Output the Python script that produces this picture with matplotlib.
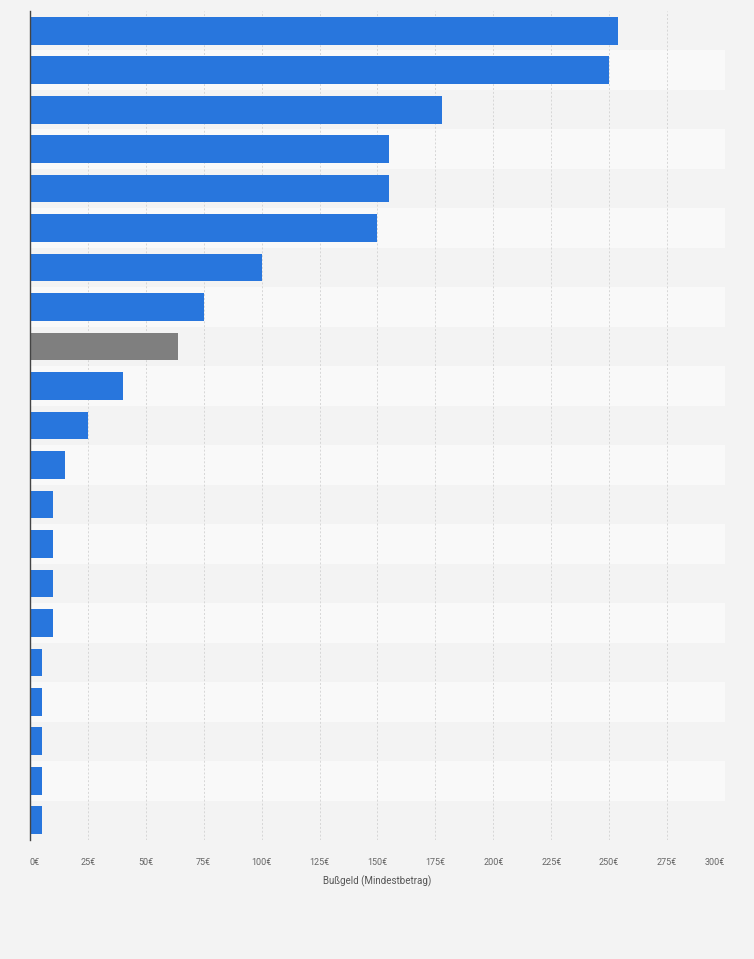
import numpy as np
import matplotlib.pyplot as plt

# minimum fines in euro, top to bottom
values = [254, 250, 178, 155, 155, 150, 100, 75, 64, 40, 25, 15,
          10, 10, 10, 10, 5, 5, 5, 5, 5]
highlight = 8  # grey bar
ticks = list(range(0, 301, 25))
tick_labels = [f"{t}€" for t in ticks]
xlabel = "Bußgeld (Mindestbetrag)"

blue = "#2876dd"
grey = "#7f7f7f"

fig = plt.figure(figsize=(7.54, 9.59), dpi=100, facecolor="#f3f3f3")
ax = fig.add_axes([30 / 754, 1 - 840 / 959, 695 / 754, 829 / 959])
ax.set_facecolor("#f3f3f3")

n = len(values)
ys = np.arange(n)
for i in ys:
    if i % 2 == 1:
        ax.axhspan(i - 0.5, i + 0.5, color="#f9f9f9", zorder=0, lw=0)

colors = [grey if i == highlight else blue for i in ys]
ax.barh(ys, values, height=0.7, color=colors, zorder=3)

ax.set_xlim(0, 300)
ax.set_ylim(n - 0.5, -0.5)
ax.set_xticks(ticks)
ax.set_xticklabels(tick_labels, fontsize=6.5, color="#666666", family="Roboto")
labels = ax.get_xticklabels()
labels[0].set_ha("left")
labels[-1].set_ha("right")
ax.set_yticks([])
ax.tick_params(axis="x", length=0, pad=13)
ax.grid(axis="x", color="#d6d6d6", linestyle=(0, (2, 2)), linewidth=0.7, zorder=1)
ax.set_xlabel(xlabel, fontsize=7, color="#555555", family="Roboto", labelpad=6)

for s in ["top", "right", "bottom"]:
    ax.spines[s].set_visible(False)
ax.spines["left"].set_color("#444444")
ax.spines["left"].set_linewidth(1.0)
ax.spines["left"].set_zorder(4)

fig.savefig("out.png", dpi=100, facecolor=fig.get_facecolor())
